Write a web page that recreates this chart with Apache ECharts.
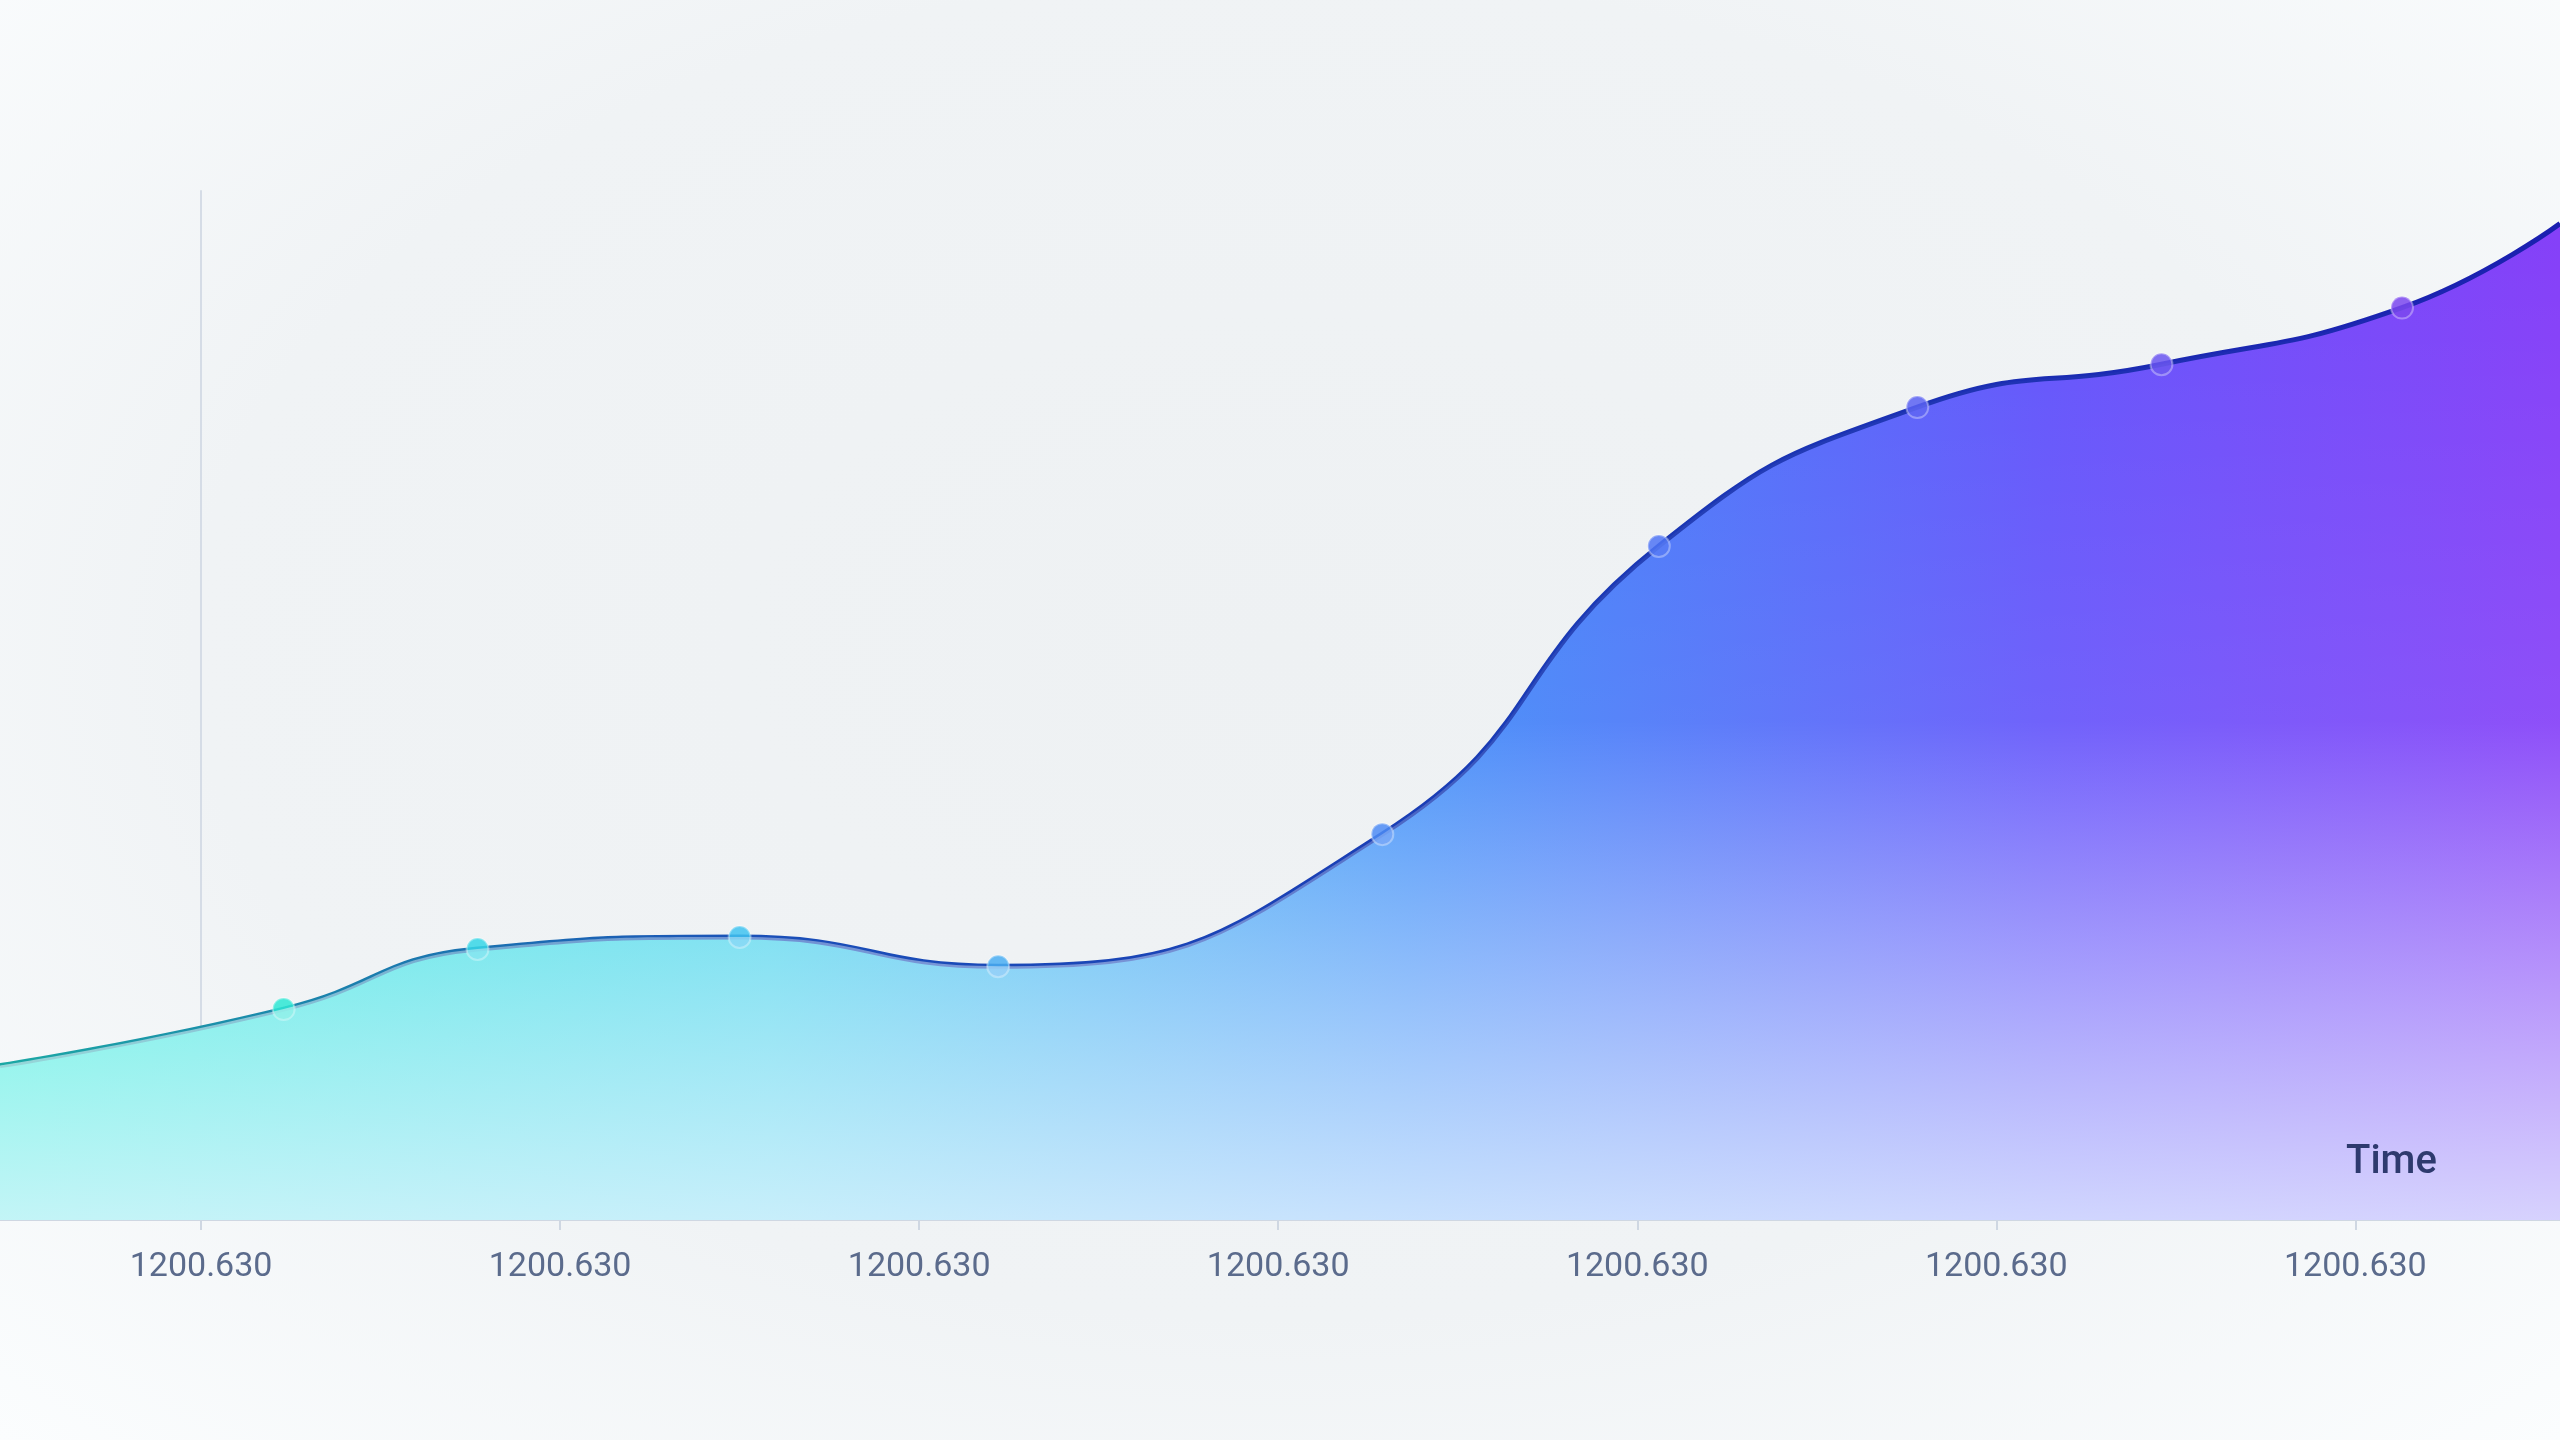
<!DOCTYPE html>
<html>
<head>
<meta charset="utf-8">
<script src="https://cdn.jsdelivr.net/npm/echarts@6/dist/echarts.min.js"></script>
<style>
  html, body { margin: 0; padding: 0; }
  body { background: radial-gradient(ellipse at 50% 45%, #eef1f3 0%, #f0f3f5 60%, #fbfdfe 100%); }
  #chart { width: 2560px; height: 1440px; }
</style>
</head>
<body>
<div id="chart"></div>
<script>
// ==============================
// data
// ==============================

// y ticks are evenly spaced on screen, labels are not linear
const yTickLabels = ['0', '250', '400', '750', '1000', '1250', '2000'];
const xTickPositions = [0, 1, 2, 3, 4, 5, 6];
const xTickLabel = '1200.630';

// x in tick units, y in tick-slot units
const xValues = [-0.56, 0.23, 0.77, 1.5, 2.22, 3.29, 4.06, 4.78, 5.46, 6.13, 6.57];
const yValues = [0.9, 1.23, 1.58, 1.65, 1.48, 2.25, 3.93, 4.74, 4.99, 5.32, 5.81];

const pointColors = ['', '#2ee6d4', '#36d6e6', '#41c3f0', '#4aaef2', '#4d8cf5', '#4f74f5', '#5a62f2', '#6a55f0', '#7a47ef', ''];

// ==============================
// chart
// ==============================

const chart = echarts.init(document.getElementById('chart'));

const lineData = xValues.map((x, i) => {
  const isEnd = i === 0 || i === xValues.length - 1;
  return {
    value: [x, yValues[i]],
    symbol: isEnd ? 'none' : 'circle',
    itemStyle: isEnd ? {} : { color: pointColors[i], opacity: 0.85, borderColor: 'rgba(255,255,255,0.4)', borderWidth: 2 }
  };
});

chart.setOption({
  backgroundColor: 'transparent',
  grid: { left: 0, right: 0, top: 191, bottom: 220, containLabel: false, outerBoundsMode: 'none' },
  xAxis: {
    type: 'value',
    min: -0.56,
    max: 6.57,
    splitLine: { show: false },
    axisLine: { show: true, lineStyle: { color: '#cfd7e2', width: 2 } },
    axisTick: { show: true, customValues: xTickPositions, length: 10, lineStyle: { color: '#cfd7e2', width: 2 } },
    axisLabel: {
      customValues: xTickPositions,
      formatter: () => xTickLabel,
      color: '#5b6b8c',
      fontSize: 34,
      fontFamily: 'Roboto',
      margin: 30
    }
  },
  yAxis: {
    type: 'value',
    min: 0,
    max: 6,
    interval: 1,
    splitLine: { show: false },
    axisLine: { show: true, onZero: true, lineStyle: { color: '#d5dce6', width: 2 } },
    axisTick: { show: false },
    axisLabel: {
      formatter: v => yTickLabels[v] || '',
      color: '#8d97ad',
      fontSize: 34,
      fontFamily: 'Roboto',
      margin: 30
    }
  },
  graphic: [{
    type: 'text',
    z: 100,
    left: 2346,
    top: 1143,
    style: { text: 'Time', fill: '#2e3a6e', fontSize: 40, fontFamily: 'Roboto', fontWeight: 500 }
  }],
  series: [
    {
      type: 'line',
      smooth: true,
      data: lineData,
      symbolSize: 22,
      z: 3,
      lineStyle: {
        width: 5,
        color: {
          type: 'linear', x: 0, y: 0, x2: 1, y2: 0,
          colorStops: [
            { offset: 0, color: '#1ba9a4' },
            { offset: 0.3, color: '#1a4fb8' },
            { offset: 1, color: '#1a1fb0' }
          ]
        }
      },
      areaStyle: {
        origin: 'start',
        opacity: 1,
        color: {
          type: 'linear', x: 0, y: 0, x2: 1, y2: 0,
          colorStops: [
            { offset: 0, color: '#22efd6' },
            { offset: 0.3, color: '#3ad0ea' },
            { offset: 0.55, color: '#3c8cf8' },
            { offset: 0.8, color: '#6455fb' },
            { offset: 1, color: '#8540f8' }
          ]
        }
      }
    },
    {
      type: 'line',
      smooth: true,
      data: xValues.map((x, i) => [x, yValues[i]]),
      symbol: 'none',
      silent: true,
      z: 4,
      lineStyle: { opacity: 0 },
      areaStyle: {
        origin: 'start',
        opacity: 1,
        color: {
          type: 'linear', x: 0, y: 0, x2: 0, y2: 1,
          colorStops: [
            { offset: 0, color: 'rgba(255,255,255,0)' },
            { offset: 0.5, color: 'rgba(255,255,255,0.08)' },
            { offset: 1, color: 'rgba(235,246,255,0.8)' }
          ]
        }
      }
    }
  ]
});
</script>
</body>
</html>
